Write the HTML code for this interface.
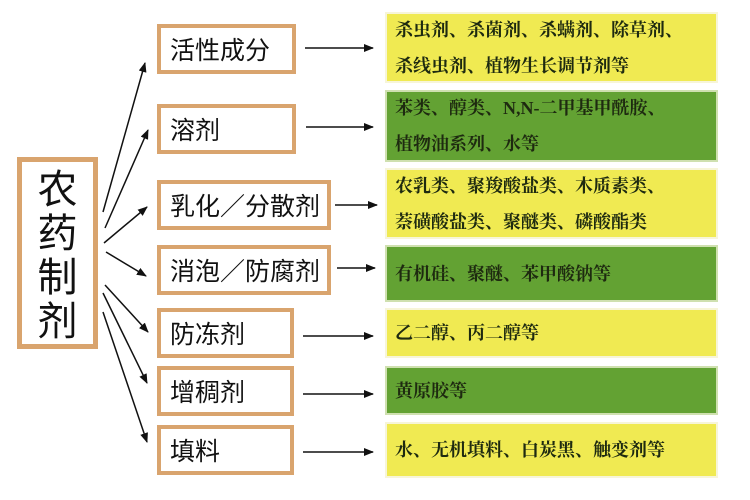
<!DOCTYPE html>
<html><head><meta charset="utf-8"><style>
body{margin:0;width:750px;height:500px;background:#fff;position:relative;overflow:hidden;font-family:"Liberation Sans","Noto Sans CJK SC",sans-serif}
.b{position:absolute;border:4px solid #d9a46e;box-sizing:border-box;background:#fff;color:#111;font-size:25px;display:flex;align-items:center;padding-left:9px;white-space:nowrap}
.main{position:absolute;left:17px;top:157px;width:81px;height:192px;border:5px solid #d9a46e;box-sizing:border-box;font-size:40px;line-height:44px;text-align:center;padding-top:6px;color:#111}
.p{position:absolute;left:385px;width:333px;box-sizing:border-box;font-family:"Liberation Serif","Noto Serif CJK SC",serif;font-weight:bold;font-size:18px;color:#1e2a10;padding:6px 8px;line-height:36px;display:flex;align-items:center;border:2px solid #f7f5d8;white-space:nowrap}
.y{background:#f0ea52}
.g{background:#63a233;border-color:#cfe0b0}
</style></head><body>
<div class="main">农<br>药<br>制<br>剂</div>
<div class="b" style="left:157px;top:24px;width:139px;height:50px">活性成分</div>
<div class="b" style="left:157px;top:104px;width:139px;height:50px">溶剂</div>
<div class="b" style="left:157px;top:180px;width:174px;height:50px">乳化／分散剂</div>
<div class="b" style="left:157px;top:245px;width:174px;height:50px">消泡／防腐剂</div>
<div class="b" style="left:157px;top:308px;width:137px;height:50px">防冻剂</div>
<div class="b" style="left:157px;top:366px;width:137px;height:50px">增稠剂</div>
<div class="b" style="left:157px;top:425px;width:137px;height:50px">填料</div>
<div class="p y" style="top:12px;height:71px">杀虫剂、杀菌剂、杀螨剂、除草剂、<br>杀线虫剂、植物生长调节剂等</div>
<div class="p g" style="top:90px;height:72px">苯类、醇类、N,N-二甲基甲酰胺、<br>植物油系列、水等</div>
<div class="p y" style="top:168px;height:71px">农乳类、聚羧酸盐类、木质素类、<br>萘磺酸盐类、聚醚类、磷酸酯类</div>
<div class="p g" style="top:245px;height:57px">有机硅、聚醚、苯甲酸钠等</div>
<div class="p y" style="top:308px;height:50px">乙二醇、丙二醇等</div>
<div class="p g" style="top:366px;height:49px">黄原胶等</div>
<div class="p y" style="top:422px;height:56px">水、无机填料、白炭黑、触变剂等</div>
<svg width="750" height="500" style="position:absolute;left:0;top:0">
<defs><marker id="a" markerWidth="10" markerHeight="8" refX="9" refY="4" orient="auto" markerUnits="userSpaceOnUse"><path d="M0,0L10,4L0,8z" fill="#111"/></marker></defs>
<g stroke="#111" stroke-width="1.5" marker-end="url(#a)">
<line x1="103" y1="212" x2="145" y2="63"/>
<line x1="105" y1="228" x2="148" y2="130"/>
<line x1="104" y1="243" x2="147" y2="207"/>
<line x1="106" y1="252" x2="146" y2="276"/>
<line x1="105" y1="285" x2="148" y2="332"/>
<line x1="103" y1="293" x2="147" y2="383"/>
<line x1="103" y1="312" x2="147" y2="442"/>
<line x1="305" y1="48" x2="373" y2="48"/>
<line x1="306" y1="127" x2="373" y2="127"/>
<line x1="335" y1="205" x2="377" y2="205"/>
<line x1="337" y1="268" x2="375" y2="268"/>
<line x1="303" y1="336" x2="373" y2="336"/>
<line x1="303" y1="394" x2="373" y2="394"/>
<line x1="303" y1="452" x2="373" y2="452"/>
</g></svg>
</body></html>
